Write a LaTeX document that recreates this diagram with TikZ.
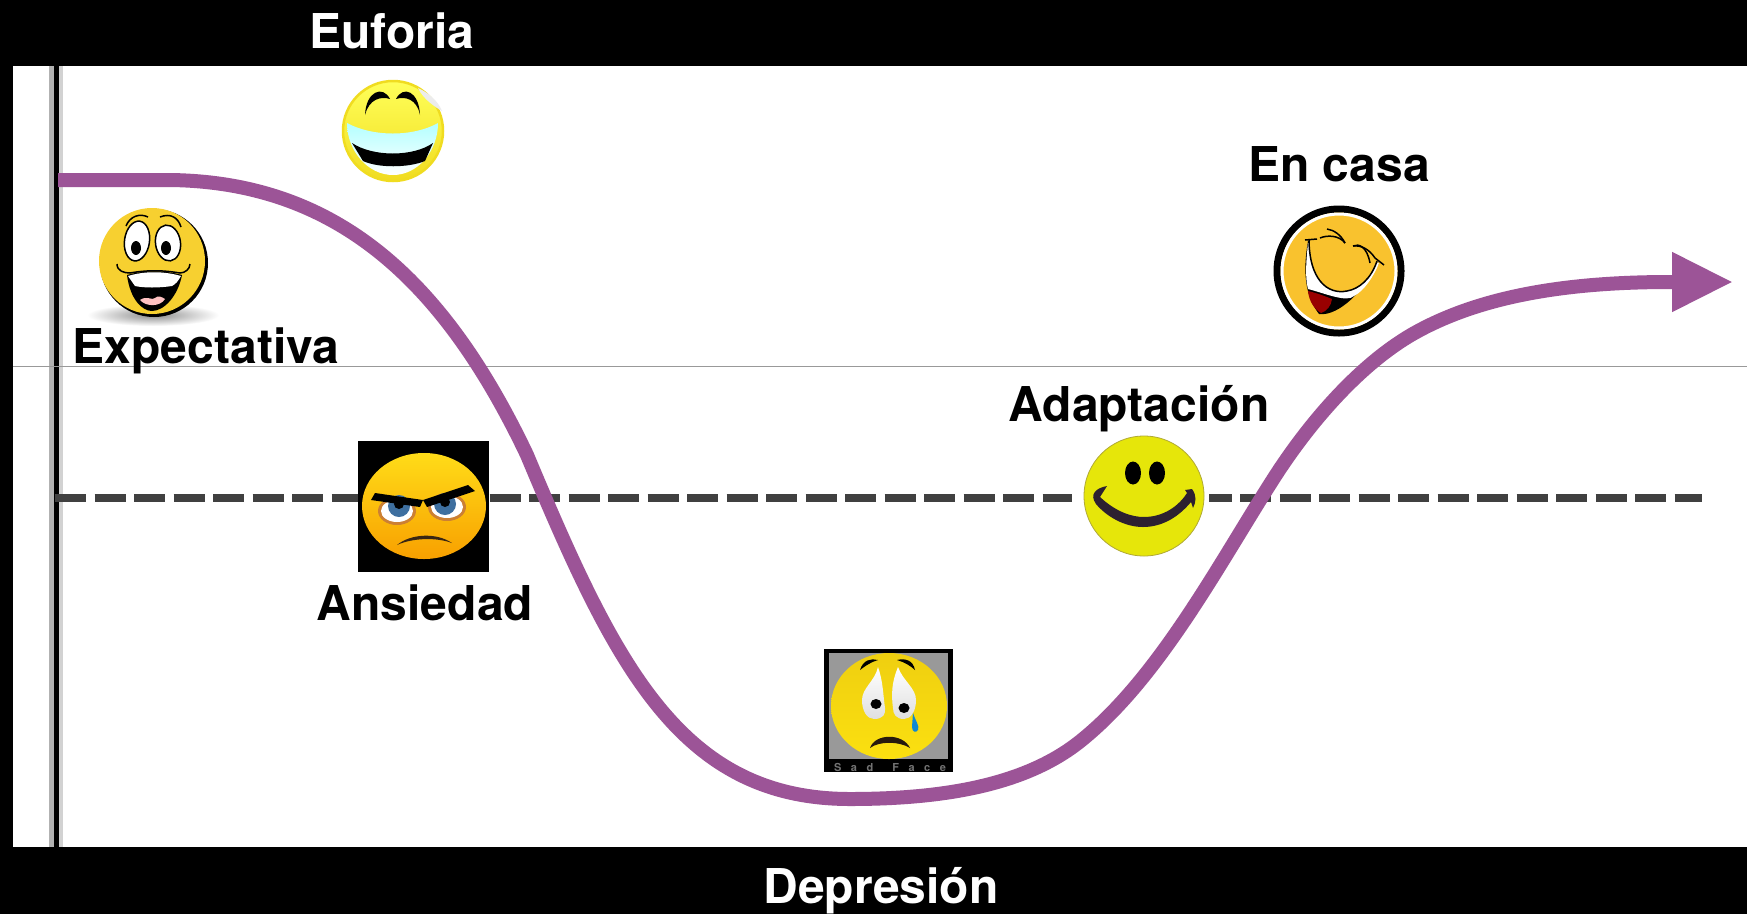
\documentclass[tikz,border=0pt]{standalone}
\usepackage{xcolor}
\usepackage{fontspec}
\setmainfont{TeX Gyre Heros}
\usetikzlibrary{shapes.geometric, arrows.meta, positioning}
\definecolor{curvepurple}{HTML}{9C5497}
\definecolor{dashgrey}{HTML}{404040}
\definecolor{expectyellow}{HTML}{F7D030}
\definecolor{euforiayellow}{HTML}{F0DC20}
\definecolor{adaptyellow}{HTML}{E6E60A}
\definecolor{casaorange}{HTML}{F9C22E}
\definecolor{smiledark}{HTML}{2D2030}
\definecolor{angrytop}{HTML}{FFDC18}
\definecolor{angrybottom}{HTML}{F8A000}
\definecolor{sadtop}{HTML}{EFCF10}
\definecolor{sadbottom}{HTML}{FBE010}

\begin{document}
\begin{tikzpicture}[x=1pt, y=-1pt]
    \tikzstyle{tag} = [font=\fontsize{48}{50}\selectfont\bfseries, text=black, inner sep=0pt]
    \tikzstyle{tagwhite} = [tag, text=white]
    \tikzstyle{face} = [circle, inner sep=0pt]
    \tikzstyle{oval} = [ellipse, inner sep=0pt]
    \tikzstyle{curve} = [line width=14pt, color=curvepurple, -{Triangle[length=61pt,width=56pt]}]
    \tikzstyle{dashline} = [line width=8pt, color=dashgrey, dash pattern=on 31pt off 8.5pt]

    \useasboundingbox (0,0) rectangle (1747,914);
    \fill[black] (0,0) rectangle (1747,914);
    \fill[white] (13,66) rectangle (1747,847);

    % frame lines
    \coordinate (axistop) at (56.5,66);
    \coordinate (axisbottom) at (56.5,847);
    \coordinate (midleft) at (13,366);
    \coordinate (midright) at (1747,366);
    \coordinate (dashleft) at (55,498);
    \coordinate (dashright) at (1702,498);
    \draw[line width=5pt, color=gray!60] ([xshift=-5pt]axistop) -- ([xshift=-5pt]axisbottom);
    \draw[line width=4pt, color=gray!35] ([xshift=4.5pt]axistop) -- ([xshift=4.5pt]axisbottom);
    \draw[line width=5pt, color=black] (axistop) -- (axisbottom);
    \draw[line width=1pt, color=gray!80] (midleft) -- (midright);
    \draw[dashline] (dashleft) -- (dashright);

    \coordinate (curvestart) at (58,180);
    \coordinate (curvelow) at (850,799);
    \coordinate (curveend) at (1733,282);
    \draw[curve] (curvestart) -- (170,180) .. controls (330,182) and (440,272) .. (527,455)
        .. controls (615,665) and (680,799) .. (curvelow)
        .. controls (950,799) and (1030,783) .. (1083,739)
        .. controls (1160,676) and (1219,564) .. (1272,481)
        .. controls (1310,421) and (1360,365) .. (1411,335)
        .. controls (1480,295) and (1570,282) .. (1670,282) -- (curveend);

    % Expectativa
    \shade[inner color=gray!90, outer color=white] (153,315) ellipse (66 and 11);
    \fill[black] (154,263) circle (54);
    \node[face, fill=expectyellow, minimum size=106pt] (expect) at (152,261) {};
    \begin{scope}[shift={(expect.center)}]
        \draw[line width=1.5pt, fill=white, rotate around={-8:(-15,-20)}] (-15,-20) ellipse (12.5 and 20);
        \draw[line width=1.5pt, fill=white, rotate around={8:(16,-18)}] (16,-18) ellipse (12.5 and 18);
        \fill[black] (-16,-13) ellipse (5 and 7);
        \fill[black] (14,-13) ellipse (5 and 7);
        \draw[line width=1.5pt] (-26,-35) .. controls (-22,-45) and (-12,-48) .. (-4,-44);
        \draw[line width=1.5pt] (8,-44) .. controls (18,-48) and (26,-44) .. (29,-34);
        \draw[line width=1.5pt] (-35,3) .. controls (-35,10) and (-28,12) .. (-22,12)
            .. controls (-5,9) and (10,9) .. (28,12) .. controls (33,12) and (38,8) .. (38,3);
        \fill[black] (-25,14) .. controls (-22,38) and (-10,50) .. (0,50) .. controls (12,50) and (26,35) .. (30,14)
            .. controls (12,9) and (-8,9) .. cycle;
        \fill[white] (-24,15) .. controls (-8,10) and (12,10) .. (29,15) .. controls (26,20) and (24,23) .. (20,25)
            .. controls (7,27) and (-8,27) .. (-17,25) -- cycle;
        \fill[pink!80!red!60] (-12,39) .. controls (-5,34) and (0,40) .. (3,37) .. controls (6,34) and (10,36) .. (13,38) .. controls (8,46) and (-6,46) .. cycle;
    \end{scope}
    \node[tag] (expectativa) at (206,351) {Expectativa};

    % Euforia
    \node[face, minimum size=100pt, top color=yellow!65!white, bottom color=euforiayellow, draw=euforiayellow, line width=2.5pt] (joy) at (393,131) {};
    \begin{scope}[shift={(joy.center)}]
        \shade[top color=cyan!30!white, bottom color=white] (-46,-8) .. controls (-20,6) and (20,6) .. (45,-8)
            .. controls (45,20) and (25,44) .. (0,44) .. controls (-25,44) and (-46,20) .. cycle;
        \fill[black] (-41,12) .. controls (-20,26) and (20,26) .. (40,12) -- (32,30) .. controls (15,37) and (-15,37) .. (-30,30) -- cycle;
        \fill[black] (-28,-16) .. controls (-27,-40) and (-10,-46) .. (-3,-32) .. controls (-12,-35) and (-24,-32) .. cycle;
        \fill[black] (27,-16) .. controls (26,-40) and (10,-46) .. (3,-32) .. controls (12,-35) and (24,-32) .. cycle;
        \fill[gray!15] (25,-43) .. controls (36,-38) and (45,-30) .. (49,-20) .. controls (42,-24) and (30,-32) .. cycle;
    \end{scope}
    \node[tagwhite] (euforia) at (392,31) {Euforia};

    % Ansiedad
    \node[rectangle, fill=black, minimum width=131pt, minimum height=131pt, inner sep=0pt] (angrybox) at (423.5,506.5) {};
    \node[oval, minimum width=124pt, minimum height=106pt, top color=angrytop, bottom color=angrybottom] (angry) at (424,506) {};
    \begin{scope}[shift={(angry.center)}]
        \fill[brown!80!orange] (-27,5) ellipse (19 and 14);
        \fill[brown!80!orange] (23,1) ellipse (19 and 14);
        \fill[white] (-27,5) ellipse (16 and 11);
        \fill[white] (23,1) ellipse (16 and 11);
        \fill[cyan!60!blue!70!black] (-25,0) circle (11);
        \fill[cyan!60!blue!70!black] (21,-2) circle (11);
        \fill[black] (-25,-2) circle (5);
        \fill[black] (21,-4) circle (5);
        \fill[black] (-49,-13) -- (-1,-6) -- (-4,1) -- (-53,-6) -- cycle;
        \fill[black] (-1,-6) -- (44,-21) -- (51,-15) -- (3,1) -- cycle;
        \fill[black!70!brown] (-27,39) .. controls (-14,28) and (12,26) .. (28,37) .. controls (12,31) and (-12,32) .. cycle;
    \end{scope}
    \node[tag] (ansiedad) at (425,603) {Ansiedad};

    % Depresion
    \node[rectangle, fill=black, minimum width=129pt, minimum height=123pt, inner sep=0pt] (sadbox) at (888.5,710.5) {};
    \node[rectangle, fill=gray!80, minimum width=119pt, minimum height=106pt, inner sep=0pt] (sadback) at (888.5,706) {};
    \node[oval, minimum width=116pt, minimum height=106pt, top color=sadtop, bottom color=sadbottom] (sad) at (889,706) {};
    \begin{scope}[shift={(sad.center)}]
        \shade[top color=white, bottom color=gray!25] (-11,-39) .. controls (-14,-25) and (-27,-18) .. (-27,-6) .. controls (-27,5) and (-22,13) .. (-15,13)
            .. controls (-6,13) and (-3,8) .. (-4,2) .. controls (-6,-12) and (-6,-25) .. cycle;
        \shade[top color=white, bottom color=gray!25] (9,-39) .. controls (14,-25) and (27,-18) .. (27,-6) .. controls (27,5) and (22,13) .. (15,13)
            .. controls (7,13) and (4,8) .. (4,2) .. controls (2,-12) and (3,-25) .. cycle;
        \fill[black] (-13,-2) ellipse (5.5 and 5);
        \fill[black] (15,2) ellipse (5.5 and 5);
        \fill[black] (-29,-36) .. controls (-26,-46) and (-18,-48) .. (-11,-46) .. controls (-18,-44) and (-24,-40) .. cycle;
        \fill[black] (8,-46) .. controls (16,-48) and (24,-46) .. (26,-36) .. controls (22,-40) and (15,-44) .. cycle;
        \fill[cyan!70!blue] (24,7) .. controls (26,14) and (31,20) .. (29,24) .. controls (27,27) and (23,26) .. (23,21) -- cycle;
        \fill[black!80!brown] (-19,42) .. controls (-14,27) and (14,27) .. (21,42) .. controls (10,35) and (-10,35) .. cycle;
    \end{scope}
    \node[text=black!55, font=\fontsize{11}{12}\selectfont\bfseries, inner sep=0pt] (sadtext) at (890,767) {\makebox[112pt]{S\hfill a\hfill d\hfill\hfill F\hfill a\hfill c\hfill e}};
    \node[tagwhite] (depresion) at (881,891) {Depresión};

    % Adaptacion
    \fill[white] (1072,432) rectangle (1209,564);
    \node[face, fill=adaptyellow, draw=olive!70, line width=0.8pt, minimum size=120pt] (adapt) at (1144,496) {};
    \begin{scope}[shift={(adapt.center)}]
        \fill[black] (-11,-23) ellipse (8 and 11.5);
        \fill[black] (13,-23) ellipse (8 and 11.5);
        \fill[smiledark] (-37,-10) -- (-44,1) .. controls (-28,16) and (-12,21) .. (0,21) .. controls (15,21) and (32,14) .. (43,-3)
            -- (41,-6) -- (48,-7) .. controls (53,0) and (52,6) .. (49,12) -- (47,6) .. controls (32,24) and (15,31) .. (-1,31)
            .. controls (-20,31) and (-38,20) .. (-48,8) .. controls (-55,-2) and (-48,-8) .. cycle;
    \end{scope}
    \node[tag] (adaptacion) at (1139,409) {Adaptación};

    % En casa
    \node[face, fill=casaorange, draw=black, line width=7pt, minimum size=124pt] (home) at (1339,271) {};
    \begin{scope}[shift={(home.center)}]
        \draw[white, line width=3pt] (0,0) circle (57);
        \fill[black] (-31,-30) .. controls (-38,10) and (-30,30) .. (-20,43) .. controls (-5,45) and (18,30) .. (40,-8) -- cycle;
        \fill[white] (-31,-28) .. controls (-34,0) and (-33,10) .. (-31,18) .. controls (-15,22) and (8,32) .. (15,25)
            .. controls (25,20) and (35,5) .. (40,-8) -- cycle;
        \fill[red!60!black] (-31,20) .. controls (-22,22) and (-12,26) .. (-7,28) .. controls (-8,35) and (-12,40) .. (-18,42) .. controls (-25,38) and (-30,30) .. cycle;
        \draw[line width=1.5pt, fill=casaorange] (-30,-32) .. controls (-30,8) and (-12,24) .. (8,20) .. controls (20,18) and (32,8) .. (38,-10);
        \draw[line width=1.5pt] (-34,-31) -- (-22,-32);
        \draw[line width=1.5pt] (-19,-33) .. controls (-12,-36) and (0,-36) .. (6,-28);
        \draw[line width=1.5pt] (-12,-42) .. controls (-5,-41) and (2,-36) .. (6,-28);
        \draw[line width=1.5pt] (14,-25) .. controls (20,-28) and (28,-24) .. (31,-8);
        \draw[line width=1.5pt] (14,-25) .. controls (22,-26) and (30,-22) .. (36,-13) -- (45,-6);
    \end{scope}
    \node[tag] (encasa) at (1339,164) {En casa};
\end{tikzpicture}
\end{document}
